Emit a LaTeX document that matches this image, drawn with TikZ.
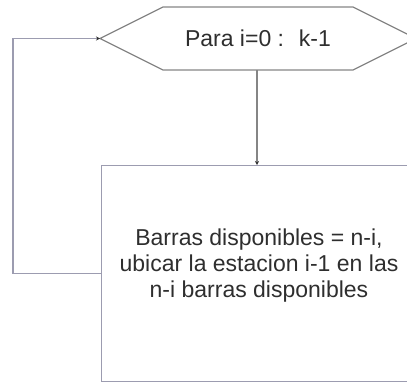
\documentclass[tikz,border=0pt]{standalone}
\usepackage{fontspec}
\setmainfont{Liberation Sans}
\usetikzlibrary{arrows.meta,positioning,calc}
\definecolor{linegray}{HTML}{858585}
\definecolor{boxline}{HTML}{9C9CB0}
\definecolor{textgray}{HTML}{2E2E2E}
\tikzset{
  hexline/.style={draw=linegray, line width=1.2pt},
  taskbox/.style={draw=boxline, line width=1.2pt, minimum width=322pt,
    minimum height=216pt, anchor=north west, inner sep=0pt},
  lbl/.style={text=textgray, font=\fontsize{23}{26}\selectfont, align=center},
  arr/.style={-{Stealth[length=4pt,width=4pt,color=black!80]},
    line width=1.2pt, draw=linegray},
  looparr/.style={arr, draw=boxline}
}
\begin{document}
\begin{tikzpicture}[x=1pt,y=-1pt]
  \useasboundingbox (0,0) rectangle (407,383);
  \clip (0,0) rectangle (407,383);
  % bucle
  \coordinate (hexL) at (100,38.5);
  \coordinate (hexB) at (257,70);
  \draw[hexline] (hexL) -- (163,7) -- (353,7) -- (416,38.5) -- (353,70) -- (163,70) -- cycle;
  \node[lbl] (para) at (258,38.5) {Para i=0 : \ k-1};
  % tarea
  \node[taskbox] (tarea) at (101,165) {};
  \node[lbl] (texto) at (259,266) {Barras disponibles = n-i,\\ubicar la estacion i-1 en las\\n-i barras disponibles};
  \draw[arr] (hexB) -- (hexB |- tarea.north);
  \draw[looparr] (tarea.west) -- ++(-88,0) |- (hexL);
\end{tikzpicture}
\end{document}
